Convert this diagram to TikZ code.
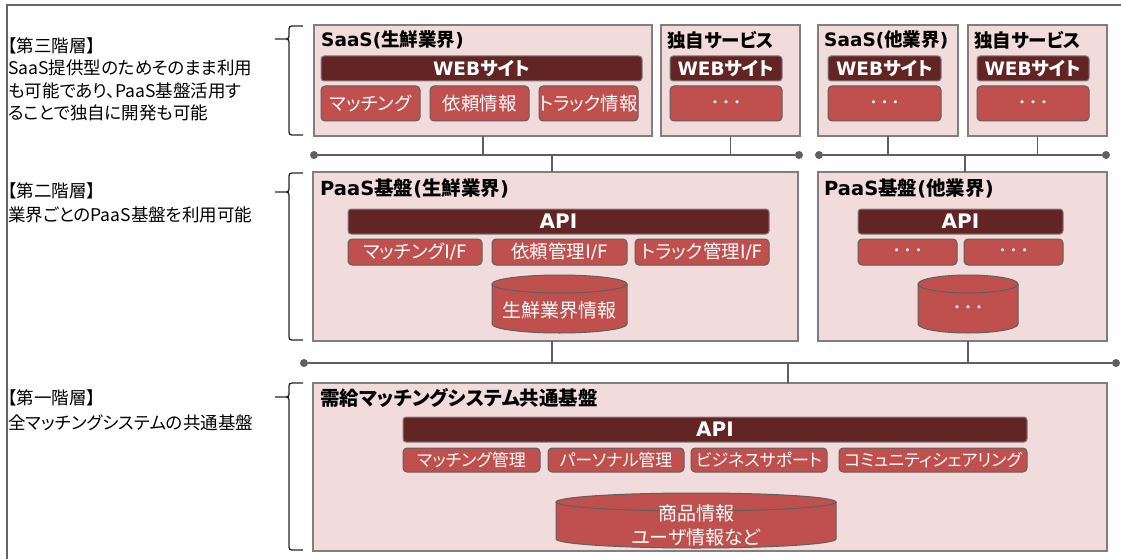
\documentclass[tikz,border=0pt]{standalone}
\usepackage{fontspec}
\setmainfont{Noto Sans CJK JP}[CharacterWidth=AlternateProportional]
\newfontfamily\plainjp{Noto Sans CJK JP}
\newfontfamily\latf{DejaVu Sans}
\newcommand\la[1]{{\latf #1}}
\newcommand\dotsjp{{\plainjp\bfseries\fontsize{11}{11}\selectfont ・・・}}
\definecolor{boxpink}{HTML}{F2DCDB}
\definecolor{edgegray}{HTML}{7F7F7F}
\definecolor{darkred}{HTML}{632523}
\definecolor{midred}{HTML}{C0504D}
\definecolor{linegray}{HTML}{5F5F5F}
\newcommand\bx[7]{\node[#1, minimum width={(#5-#3)*1pt}, minimum height={(#6-#4)*1pt}] (#2) at ({(#3+#5)/2},{(#4+#6)/2}) {#7};}
\newcommand\dbshape[5]{%
  \pgfmathsetmacro\dbxc{(#1+#2)/2}%
  \pgfmathsetmacro\dbrx{(#2-#1)/2}%
  \pgfmathsetmacro\dbyt{#3+#5}%
  \pgfmathsetmacro\dbyb{#4-#5}%
  \filldraw[dbstyle] (#1,\dbyt) -- (#1,\dbyb) .. controls (#1,{\dbyb+0.5523*#5}) and ({\dbxc-0.5523*\dbrx},#4) .. (\dbxc,#4) .. controls ({\dbxc+0.5523*\dbrx},#4) and (#2,{\dbyb+0.5523*#5}) .. (#2,\dbyb) -- (#2,\dbyt);
  \filldraw[dbstyle] (\dbxc,\dbyt) ellipse [x radius=\dbrx, y radius=#5];
}
\newcommand\bracepath[3]{%
  \draw[bracestyle] (303,#1) -- (295,#1) .. controls (289,#1) and (289,#1) .. (289,{#1+6}) -- (289,{#2-6}) .. controls (289,#2) and (289,#2) .. (283,#2) -- (275,#2) -- (283,#2) .. controls (289,#2) and (289,#2) .. (289,{#2+6}) -- (289,{#3-6}) .. controls (289,#3) and (289,#3) .. (295,#3) -- (303,#3);
}
\begin{document}
\begin{tikzpicture}[x=1pt,y=-1pt,
  pinkbox/.style={draw=edgegray, fill=boxpink, line width=1.3pt, inner sep=0pt, outer sep=0pt},
  darkbar/.style={draw=edgegray, fill=darkred, rounded corners=3pt, line width=1pt, text=white, inner sep=0pt, outer sep=0pt, font=\bfseries\fontsize{18.5}{18.5}\selectfont},
  apibar/.style={darkbar, font=\bfseries\fontsize{20}{20}\selectfont},
  redbox/.style={draw=linegray, fill=midred, rounded corners=4pt, line width=1pt, text=white, inner sep=0pt, outer sep=0pt, font=\fontsize{18.5}{18.5}\selectfont},
  redsmall/.style={redbox, font=\fontsize{17}{17}\selectfont},
  dbstyle/.style={draw=linegray, fill=midred, line width=1pt},
  dbtext/.style={text=white, inner sep=0pt, align=center, font=\fontsize{19}{24}\selectfont},
  title/.style={anchor=west, inner sep=0pt, font=\bfseries\fontsize{18.5}{18.5}\selectfont},
  bigtitle/.style={title, font=\bfseries\fontsize{19.5}{19.5}\selectfont},
  lefttext/.style={anchor=west, inner sep=0pt, text height=13pt, text depth=0pt, font=\fontsize{17.5}{17.5}\selectfont},
  bus/.style={draw=linegray, line width=1.3pt},
  busdot/.style={circle, fill=linegray, minimum size=8pt, inner sep=0pt},
  bracestyle/.style={draw=black!85, line width=1.3pt},
  frame/.style={draw=black!60, line width=2pt}
]
\useasboundingbox (0,0) rectangle (1121,559);
\draw[frame] (7,559) -- (7,5) -- (1121,5);

% left texts
\node[lefttext] (l3a) at (8,46) {【第三階層】};
\node[lefttext] (l3b) at (8,68.5) {SaaS提供型のためそのまま利用};
\node[lefttext] (l3c) at (8,91) {も可能であり、PaaS基盤活用す};
\node[lefttext] (l3d) at (8,113.5) {ることで独自に開発も可能};
\node[lefttext] (l2a) at (8,191) {【第二階層】};
\node[lefttext] (l2b) at (8,215) {業界ごとのPaaS基盤を利用可能};
\node[lefttext] (l1a) at (8,398) {【第一階層】};
\node[lefttext] (l1b) at (8,423) {全マッチングシステムの共通基盤};

% braces
\bracepath{26}{39}{135}
\bracepath{173}{192}{340}
\bracepath{383}{397}{550}

% third layer
\bx{pinkbox}{saas1}{314}{25}{652}{136}{}
\node[title] (t1) at (321,40) {\la{SaaS(}生鮮業界\la{)}};
\bx{darkbar}{web1}{321}{56}{642}{81}{\la{WEB}サイト}
\bx{redbox}{s1a}{321}{86}{420}{121}{マッチング}
\bx{redbox}{s1b}{430}{86}{529}{121}{依頼情報}
\bx{redbox}{s1c}{539}{86}{638}{121}{トラック情報}

\bx{pinkbox}{dok1}{661}{25}{800}{136}{}
\node[title] (t2) at (667,40) {独自サービス};
\bx{darkbar}{web2}{670}{56}{782}{81}{\la{WEB}サイト}
\bx{redbox}{d1a}{670}{86}{782}{121}{\dotsjp}

\bx{pinkbox}{saas2}{818}{25}{958}{136}{}
\node[title] (t3) at (824,40) {\la{SaaS(}他業界\la{)}};
\bx{darkbar}{web3}{828}{56}{941}{81}{\la{WEB}サイト}
\bx{redbox}{s2a}{828}{86}{941}{121}{\dotsjp}

\bx{pinkbox}{dok2}{968}{25}{1107}{136}{}
\node[title] (t4) at (974,40) {独自サービス};
\bx{darkbar}{web4}{977}{56}{1089}{81}{\la{WEB}サイト}
\bx{redbox}{d2a}{977}{86}{1089}{121}{\dotsjp}

% second layer
\bx{pinkbox}{paas1}{313}{172}{798}{341}{}
\node[bigtitle] (t5) at (320,188) {\la{PaaS}基盤\la{(}生鮮業界\la{)}};
\bx{apibar}{api1}{348}{209}{769}{234}{\la{API}}
\bx{redbox}{p1a}{348}{239}{482}{265}{マッチング\la{I/F}}
\bx{redbox}{p1b}{492}{239}{627}{265}{依頼管理\la{I/F}}
\bx{redbox}{p1c}{635}{239}{769}{265}{トラック管理\la{I/F}}
\dbshape{492}{627}{275}{333}{9}
\node[dbtext] (db1) at (559.5,310) {生鮮業界情報};

\bx{pinkbox}{paas2}{818}{172}{1107}{341}{}
\node[bigtitle] (t6) at (824,188) {\la{PaaS}基盤\la{(}他業界\la{)}};
\bx{apibar}{api2}{858}{209}{1063}{234}{\la{API}}
\bx{redbox}{p2a}{858}{239}{957}{265}{\dotsjp}
\bx{redbox}{p2b}{964}{239}{1063}{265}{\dotsjp}
\dbshape{918}{1018}{275}{333}{9}
\node[dbtext] (db2) at (968,309) {\dotsjp};

% first layer
\bx{pinkbox}{base}{313}{383}{1107}{551}{}
\node[bigtitle] (t7) at (320,398) {需給マッチングシステム共通基盤};
\bx{apibar}{api3}{403}{417}{1027}{442}{\la{API}}
\bx{redsmall}{c1}{403}{448}{540}{472}{マッチング管理}
\bx{redsmall}{c2}{548}{448}{684}{472}{パーソナル管理}
\bx{redsmall}{c3}{691}{448}{827}{472}{ビジネスサポート}
\bx{redsmall}{c4}{839}{448}{1027}{472}{コミュニティシェアリング}
\dbshape{556}{836}{493}{548}{9}
\node[dbtext] (db3) at (696,525) {商品情報\\ユーザ情報など};

% buses
\node[busdot] (b1l) at (314,155) {};
\node[busdot] (b1r) at (799,155) {};
\node[busdot] (b2l) at (819,155) {};
\node[busdot] (b2r) at (1106,155) {};
\node[busdot] (b3l) at (304,363) {};
\node[busdot] (b3r) at (1116,363) {};
\draw[bus] (b1l) -- (b1r);
\draw[bus] (b2l) -- (b2r);
\draw[bus] (b3l) -- (b3r);
\draw[bus] (saas1.south) -- (saas1.south |- b1l);
\draw[bus] (dok1.south) -- (dok1.south |- b1l);
\draw[bus] (saas2.south) -- (saas2.south |- b2l);
\draw[bus] (dok2.south) -- (dok2.south |- b2l);
\coordinate (j1) at (552,155);
\draw[bus] (j1) -- (j1 |- paas1.north);
\coordinate (j2) at (965,155);
\draw[bus] (j2) -- (j2 |- paas2.north);
\coordinate (j3) at (552,363);
\draw[bus] (j3) -- (j3 |- paas1.south);
\coordinate (j4) at (968,363);
\draw[bus] (j4) -- (j4 |- paas2.south);
\coordinate (j5) at (788,363);
\draw[bus] (j5) -- (j5 |- base.north);
\end{tikzpicture}
\end{document}
